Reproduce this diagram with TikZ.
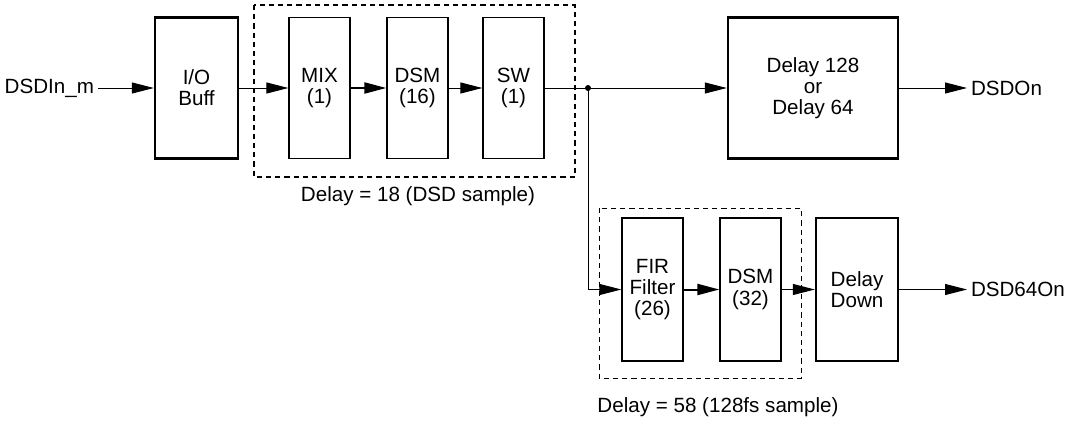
\documentclass[tikz,border=0pt]{standalone}
\usepackage{fontspec}
\setmainfont{Liberation Sans}
\usetikzlibrary{arrows.meta,positioning}

\begin{document}
\begin{tikzpicture}[x=0.5pt,y=-0.5pt,
    font=\fontsize{10.3}{10.6}\selectfont,
    blk/.style={draw,line width=0.65pt,minimum width=30.5pt,minimum height=70.5pt,align=center,inner sep=0pt},
    bigblk/.style={blk,line width=1.2pt},
    lbl/.style={inner sep=0pt,outer sep=2pt},
    sig/.style={-{Triangle[length=11pt,width=5.5pt]},line width=0.5pt},
    grp/.style={dashed,dash pattern=on 2.6pt off 2pt}]
  \useasboundingbox (0,0) rectangle (1066,423);

  % upper chain
  \node[bigblk,minimum width=41.5pt] (io) at (196.5,88) {I/O\\Buff};
  \node[blk] (mix) at (319.5,88) {MIX\\(1)};
  \node[blk] (dsm) at (417.5,88) {DSM\\(16)};
  \node[blk] (sw) at (513.5,88) {SW\\(1)};
  \node[bigblk,minimum width=85pt] (dly) at (813,88) {Delay 128\\or\\Delay 64};
  \node[lbl,anchor=east] (in) at (98,88) {DSDIn\_m};
  \node[lbl,anchor=west] (out) at (967,88) {DSDOn};
  \coordinate (dot) at (588,88);
  \fill (dot) circle (1.5pt);

  % lower chain
  \node[blk,minimum height=71.5pt] (fir) at (652.5,289.5) {FIR\\Filter\\(26)};
  \node[blk,minimum height=71.5pt] (dsmb) at (750.5,289.5) {DSM\\(32)};
  \node[bigblk,minimum width=41pt,minimum height=71.5pt] (down) at (857,289.5) {Delay\\Down};
  \node[lbl,anchor=west] (out64) at (967,289.5) {DSD64On};

  \draw[grp,line width=0.7pt] (254,5) rectangle (575,177);
  \draw[grp,line width=0.5pt] (599,208) rectangle (801,378);
  \node (d18) at (418,196) {Delay = 18 (DSD sample)};
  \node (d58) at (718,407) {Delay = 58 (128fs sample)};

  \draw[sig] (in) -- (io);
  \draw[sig] (io) -- (mix);
  \draw[sig,line width=1pt] (mix) -- (dsm);
  \draw[sig] (dsm) -- (sw);
  \draw[line width=0.5pt] (sw) -- (dot);
  \draw[sig] (dot) -- (dly);
  \draw[sig] (dly) -- (out);
  \draw[sig] (dot) |- (fir);
  \draw[sig,line width=1pt] (fir) -- (dsmb);
  \draw[sig] (dsmb) -- (down);
  \draw[sig] (down) -- (out64);
\end{tikzpicture}
\end{document}
